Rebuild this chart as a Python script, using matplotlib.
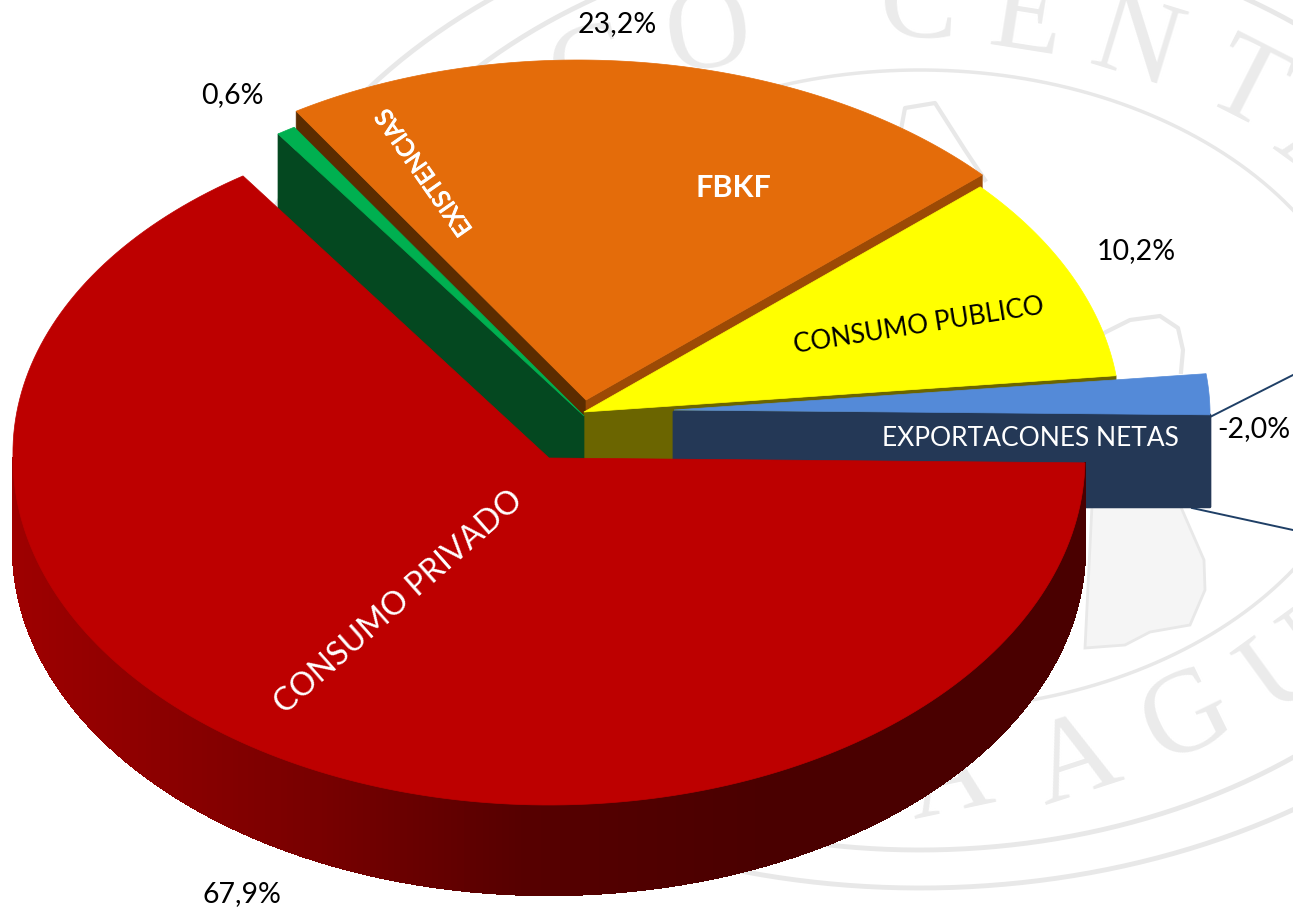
import numpy as np
import matplotlib
matplotlib.use("Agg")
import matplotlib.pyplot as plt
import matplotlib.patheffects as pe
from matplotlib.collections import PolyCollection

plt.rcParams["font.family"] = ["Lato", "DejaVu Sans"]

# slices, counter clockwise from the right edge
names = ["EXPORTACONES NETAS", "CONSUMO PUBLICO", "FBKF", "EXISTENCIAS", "CONSUMO PRIVADO"]
values = [-2.0, 10.2, 23.2, 0.6, 67.9]
top_colors = ["#548ad8", "#ffff00", "#e46c0a", "#00b050", "#bd0000"]

# apex of each slice after exploding it, in pixels of the picture
apex_x = [674, 584, 586, 584, 549]
apex_y = [410, 412, 400, 416, 458]

# where the texts go
name_x = [1030, 919, 733, 425, 399]
name_y = [438, 326, 188, 172, 602]
name_rot = [0, 9, 0, 125, 41.5]
name_col = ["white", "black", "white", "white", "white"]
name_size = [19, 18.7, 22, 17.5, 23.2]
pct_x = [1254, 1136, 617, 232, 242]
pct_y = [429, 251, 24, 95, 894]

rx = 536
ry_up = 340
ry_low = 347
depth = 90
start = -0.8
shear = 0.024

# seal in the background
ring_rx = [451, 620, 693]
ring_ry = [320, 460, 498]
seal_letters = ["C", "O", "C", "E", "N", "T", "A", "A", "A", "G", "U"]
seal_x = [590, 708, 918, 1027, 1136, 1245, 1322, 950, 1076, 1187, 1290]
seal_y = [75, 38, 8, 21, 48, 90, 150, 782, 765, 720, 668]
seal_rot = [14, 8, -3, -9, -17, -27, -36, 12, 18, 26, 36]


def rim(t, cx, cy):
    r = np.radians(t)
    s = np.sin(r)
    x = cx + rx * np.cos(r) - shear * ry_up * np.clip(s, 0, None)
    y = cy - np.where(s > 0, ry_up, ry_low) * s
    return x, y


def top_face(t1, t2, cx, cy, color, z):
    t = np.linspace(t1, t2, 200)
    x, y = rim(t, cx, cy)
    ax.fill(np.r_[cx, x], np.r_[cy, y], color=color, lw=0.5, zorder=z)


def radial_face(t, cx, cy, color, z):
    x, y = rim(t, cx, cy)
    ax.fill([cx, x, x, cx], [cy, y, y + depth, cy + depth], color=color, lw=0.5, zorder=z)


shares = np.abs(values) / np.abs(values).sum() * 360
edges = start + np.r_[0, np.cumsum(shares)]

fig = plt.figure(figsize=(12.93, 9.10), dpi=100)
ax = fig.add_axes([0, 0, 1, 1])
ax.set_xlim(0, 1293)
ax.set_ylim(910, 0)
ax.axis("off")

# background seal
tt = np.radians(np.linspace(0, 360, 500))
for a, b, w in zip(ring_rx, ring_ry, [2.5, 3.5, 3.5]):
    ax.plot(920 + a * np.cos(tt), 390 + b * np.sin(tt), color="#e8e8e8", lw=w, zorder=1)
for s, x, y, r in zip(seal_letters, seal_x, seal_y, seal_rot):
    ax.text(x, y, s, family="Liberation Serif", fontsize=85, color="#ebebeb",
            rotation=r, rotation_mode="anchor", ha="center", va="center", zorder=1)
# figure in the middle of the seal
ax.fill([1092, 1130, 1180, 1204, 1205, 1190, 1150, 1125, 1085],
        [505, 505, 505, 560, 590, 625, 632, 645, 648],
        facecolor="#f5f5f5", edgecolor="#e8e8e8", lw=2, zorder=1)
ax.plot([888, 905, 935, 965, 985], [200, 108, 103, 150, 180], color="#e8e8e8", lw=3, zorder=1)
ax.plot([1100, 1130, 1160, 1178, 1183, 1181], [335, 320, 316, 328, 350, 372],
        color="#e8e8e8", lw=3, zorder=1)

# leader lines of the exports label
ax.plot([1210, 1293], [417, 375], color="#1f3f66", lw=1.4, zorder=2)
ax.plot([1192, 1293], [508, 530], color="#1f3f66", lw=1.4, zorder=2)

# orange
radial_face(edges[3], apex_x[2], apex_y[2], "#5b2c00", 3)
radial_face(edges[2], apex_x[2], apex_y[2], "#9c4a05", 3)
top_face(edges[2], edges[3], apex_x[2], apex_y[2], top_colors[2], 4)
# yellow
radial_face(edges[1], apex_x[1], apex_y[1], "#6b6500", 5)
top_face(edges[1], edges[2], apex_x[1], apex_y[1], top_colors[1], 6)
# green
radial_face(edges[4], apex_x[3], apex_y[3], "#044820", 7)
top_face(edges[3], edges[4], apex_x[3], apex_y[3], top_colors[3], 8)
# blue
bx, by = rim(edges[0], apex_x[0], apex_y[0])
ax.fill([apex_x[0], bx, bx, apex_x[0]],
        [apex_y[0] + 2, by, by + depth + 2, apex_y[0] + depth + 7],
        facecolor="#243856", edgecolor="#243856", lw=2, joinstyle="round", zorder=9)
top_face(edges[0], edges[1], apex_x[0], apex_y[0], top_colors[0], 10)

# red with its shaded outer wall
tw = np.linspace(180, 360 + start, 260)
wx, wy = rim(tw, apex_x[4], apex_y[4])
quads = []
cols = []
for i in range(len(tw) - 1):
    quads.append([(wx[i], wy[i]), (wx[i + 1], wy[i + 1]),
                  (wx[i + 1], wy[i + 1] + depth), (wx[i], wy[i] + depth)])
    f = (wx[i] - wx[0]) / (wx[-1] - wx[0])
    cols.append((np.interp(f, [0, 0.15, 0.3, 0.47, 0.7, 1], [0.62, 0.54, 0.46, 0.34, 0.29, 0.29]), 0, 0))
ax.add_collection(PolyCollection(quads, facecolors=cols, edgecolors=cols, lw=1,
                                 antialiaseds=False, zorder=11))
top_face(edges[4], 360 + start, apex_x[4], apex_y[4], top_colors[4], 12)

# texts
for i in range(5):
    t = ax.text(name_x[i], name_y[i], names[i], color=name_col[i], fontsize=name_size[i],
                rotation=name_rot[i], rotation_mode="anchor", ha="center", va="center",
                fontweight="bold" if names[i] == "FBKF" else "normal", zorder=20)
    if names[i] == "EXISTENCIAS":
        t.set_path_effects([pe.withStroke(linewidth=0.7, foreground="white")])
    label = f"{values[i]:.1f}%".replace(".", ",")
    ax.text(pct_x[i], pct_y[i], label, color="black", fontsize=20.5,
            ha="center", va="center", zorder=20)

fig.savefig("out.png", dpi=100)
